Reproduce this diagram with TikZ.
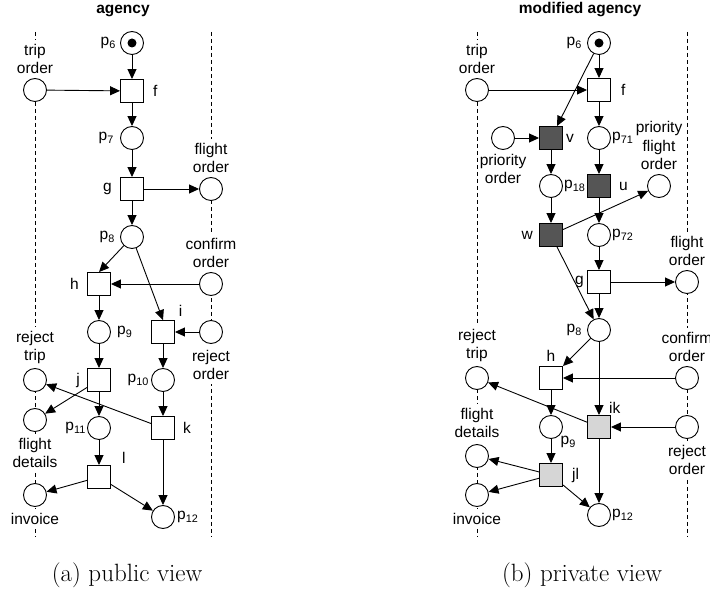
\documentclass[tikz,border=0pt]{standalone}
\usepackage{fontspec}
\setsansfont{Liberation Sans}
\usetikzlibrary{arrows.meta, positioning}
\definecolor{newgray}{HTML}{555555}
\definecolor{mergegray}{HTML}{D6D6D6}
\newcommand{\netfont}{\sffamily\fontsize{15.5}{18.5}\selectfont}

\begin{document}
\begin{tikzpicture}[x=1pt, y=-1pt,
    place/.style={circle, draw, line width=0.9pt, fill=white, minimum size=23pt, inner sep=0pt},
    trans/.style={rectangle, draw, line width=0.9pt, fill=white, minimum size=23pt, inner sep=0pt},
    darktrans/.style={trans, fill=newgray},
    lighttrans/.style={trans, fill=mergegray},
    token/.style={circle, fill=black, minimum size=9pt, inner sep=0pt},
    lbl/.style={font=\netfont, inner sep=1pt},
    iface/.style={font=\netfont, align=center, fill=white, inner xsep=1pt, inner ysep=4pt},
    arc/.style={-{Triangle[length=10pt, width=9pt]}, line width=0.9pt},
    lane/.style={line width=0.8pt, dash pattern=on 4pt off 3pt}
]
\useasboundingbox (0,0) rectangle (710,593);

% Titles and captions
\node[font=\netfont\bfseries, anchor=base] (atitle) at (123,14) {agency};
\node[font=\netfont\bfseries, anchor=base] (btitle) at (580,14) {modified agency};
\node[font=\fontsize{25}{30}\selectfont, anchor=base] (acap) at (127,581) {(a) public view};
\node[font=\fontsize{25}{30}\selectfont, anchor=base] (bcap) at (582,581) {(b) private view};

% Lanes
\coordinate (alt) at (35,32);  \coordinate (alb) at (35,537);
\coordinate (art) at (211,32); \coordinate (arb) at (211,537);
\coordinate (blt) at (477,32); \coordinate (blb) at (477,537);
\coordinate (brt) at (687,32); \coordinate (brb) at (687,537);
\draw[lane] (alt) -- (alb);
\draw[lane] (art) -- (arb);
\draw[lane] (blt) -- (blb);
\draw[lane] (brt) -- (brb);

% Public view
\node[place, label={[lbl, label distance=3pt]left:p\textsubscript{6}}] (ap6) at (132,43) {};
\node[token] (ap6tok) at (ap6) {};
\node[place] (atrip) at (35,90) {};
\node[iface, above=0pt of atrip] (atripl) {trip\\order};
\node[trans, label={[lbl, label distance=8pt]right:f}] (af) at (132,91) {};
\node[place, label={[lbl, label distance=5pt]left:p\textsubscript{7}}] (ap7) at (132,138) {};
\node[trans, label={[lbl, label distance=7pt]left:g}] (ag) at (132,189) {};
\node[place] (aflt) at (211,189) {};
\node[iface, above=0pt of aflt] (afltl) {flight\\order};
\node[place, label={[lbl, label distance=4pt]left:p\textsubscript{8}}] (ap8) at (132,237) {};
\node[trans, label={[lbl, label distance=7pt]left:h}] (ah) at (99,284) {};
\node[place] (aconf) at (211,284) {};
\node[iface, above=0pt of aconf] (aconfl) {confirm\\order};
\node[trans, label={[lbl, label distance=4pt]above right:i}] (ai) at (163,332) {};
\node[place] (arejo) at (211,332) {};
\node[iface, below=2pt of arejo] (arejol) {reject\\order};
\node[place, label={[lbl, label distance=5pt]right:p\textsubscript{9}}] (ap9) at (99,332) {};
\node[trans, label={[lbl, label distance=6pt]left:j}] (aj) at (99,380) {};
\node[place, label={[lbl, label distance=1pt]left:p\textsubscript{10}}] (ap10) at (163,380) {};
\node[place] (arejt) at (35,380) {};
\node[iface, above=0pt of arejt] (arejtl) {reject\\trip};
\node[place] (afld) at (35,420) {};
\node[iface, below=2pt of afld] (afldl) {flight\\details};
\node[place, label={[lbl, label distance=0pt]left:p\textsubscript{11}}] (ap11) at (99,428) {};
\node[trans, label={[lbl, label distance=7pt]right:k}] (ak) at (163,428) {};
\node[trans, label={[lbl, label distance=0pt, xshift=10pt]above right:l}] (al) at (99,477) {};
\node[place] (ainv) at (35,495) {};
\node[iface, below=2pt of ainv] (ainvl) {invoice};
\node[place, label={[lbl, label distance=1pt]right:p\textsubscript{12}}] (ap12) at (163,517) {};

\draw[arc] (ap6) -- (af);
\draw[arc] (atrip) -- (af);
\draw[arc] (af) -- (ap7);
\draw[arc] (ap7) -- (ag);
\draw[arc] (ag) -- (aflt);
\draw[arc] (ag) -- (ap8);
\draw[arc] (ap8) -- (ah.north);
\draw[arc] (ap8) -- (ai.north);
\draw[arc] (aconf) -- (ah);
\draw[arc] (arejo) -- (ai);
\draw[arc] (ah) -- (ap9);
\draw[arc] (ai) -- (ap10);
\draw[arc] (ap9) -- (aj);
\draw[arc] (aj) -- (afld);
\draw[arc] (aj) -- (ap11);
\draw[arc] (ap10) -- (ak);
\draw[arc] (ak) -- (arejt);
\draw[arc] (ap11) -- (al);
\draw[arc] (al) -- (ainv);
\draw[arc] (al) -- (ap12);
\draw[arc] (ak) -- (ap12);

% Private view
\node[place, label={[lbl, label distance=4pt]left:p\textsubscript{6}}] (bp6) at (599,43) {};
\node[token] (bp6tok) at (bp6) {};
\node[place] (btrip) at (477,90) {};
\node[iface, above=0pt of btrip] (btripl) {trip\\order};
\node[trans, label={[lbl, label distance=9pt]right:f}] (bf) at (599,90) {};
\node[place] (bprio) at (503,138) {};
\node[lbl, align=center, below=3pt of bprio] (bpriol) {priority\\order};
\node[darktrans, label={[lbl, label distance=2pt]right:v}] (bv) at (551,138) {};
\node[place, label={[lbl, label distance=0pt]right:p\textsubscript{71}}] (bp71) at (599,138) {};
\node[place, label={[lbl, label distance=0pt]right:p\textsubscript{18}}] (bp18) at (551,186) {};
\node[darktrans, label={[lbl, label distance=7pt]right:u}] (bu) at (599,186) {};
\node[place] (bpfo) at (659,186) {};
\node[lbl, align=center, inner ysep=4pt, above=0pt of bpfo] (bpfol) {priority\\flight\\order};
\node[darktrans, label={[lbl, label distance=5pt]left:w}] (bw) at (551,235) {};
\node[place, label={[lbl, label distance=0pt]right:p\textsubscript{72}}] (bp72) at (599,235) {};
\node[trans, label={[lbl, label distance=2pt]left:g}] (bg) at (599,282) {};
\node[place] (bflt) at (687,282) {};
\node[iface, above=0pt of bflt] (bfltl) {flight\\order};
\node[place, label={[lbl, label distance=4pt]left:p\textsubscript{8}}] (bp8) at (599,330) {};
\node[trans, label={[lbl, label distance=3pt]above:h}] (bh) at (551,378) {};
\node[place] (bconf) at (687,378) {};
\node[iface, above=0pt of bconf] (bconfl) {confirm\\order};
\node[place] (brejt) at (477,378) {};
\node[iface, above=0pt of brejt] (brejtl) {reject\\trip};
\node[lighttrans, label={[lbl, label distance=0pt, xshift=-3pt]above right:ik}] (bik) at (599,427) {};
\node[place, label={[lbl, label distance=0pt]below right:p\textsubscript{9}}] (bp9) at (551,427) {};
\node[place] (brejo) at (687,427) {};
\node[iface, below=2pt of brejo] (brejol) {reject\\order};
\node[place] (bfld) at (477,456) {};
\node[iface, above=2pt of bfld] (bfldl) {flight\\details};
\node[lighttrans, label={[lbl, label distance=8pt]right:jl}] (bjl) at (551,475) {};
\node[place] (binv) at (477,495) {};
\node[iface, below=2pt of binv] (binvl) {invoice};
\node[place, label={[lbl, label distance=0pt]right:p\textsubscript{12}}] (bp12) at (599,515) {};

\draw[arc] (bp6) -- (bf);
\draw[arc] (bp6) -- (bv);
\draw[arc] (btrip) -- (bf);
\draw[arc] (bprio) -- (bv);
\draw[arc] (bf) -- (bp71);
\draw[arc] (bv) -- (bp18);
\draw[arc] (bp71) -- (bu);
\draw[arc] (bp18) -- (bw);
\draw[arc] (bu) -- (bp72);
\draw[arc] (bw) -- (bpfo);
\draw[arc] (bw) -- (bp8);
\draw[arc] (bp72) -- (bg);
\draw[arc] (bg) -- (bflt);
\draw[arc] (bg) -- (bp8);
\draw[arc] (bp8) -- (bh);
\draw[arc] (bp8) -- (bik);
\draw[arc] (bconf) -- (bh);
\draw[arc] (brejo) -- (bik);
\draw[arc] (bik) -- (brejt);
\draw[arc] (bh) -- (bp9);
\draw[arc] (bp9) -- (bjl);
\draw[arc] (bjl) -- (bfld);
\draw[arc] (bjl) -- (binv);
\draw[arc] (bjl) -- (bp12);
\draw[arc] (bik) -- (bp12);
\end{tikzpicture}
\end{document}
